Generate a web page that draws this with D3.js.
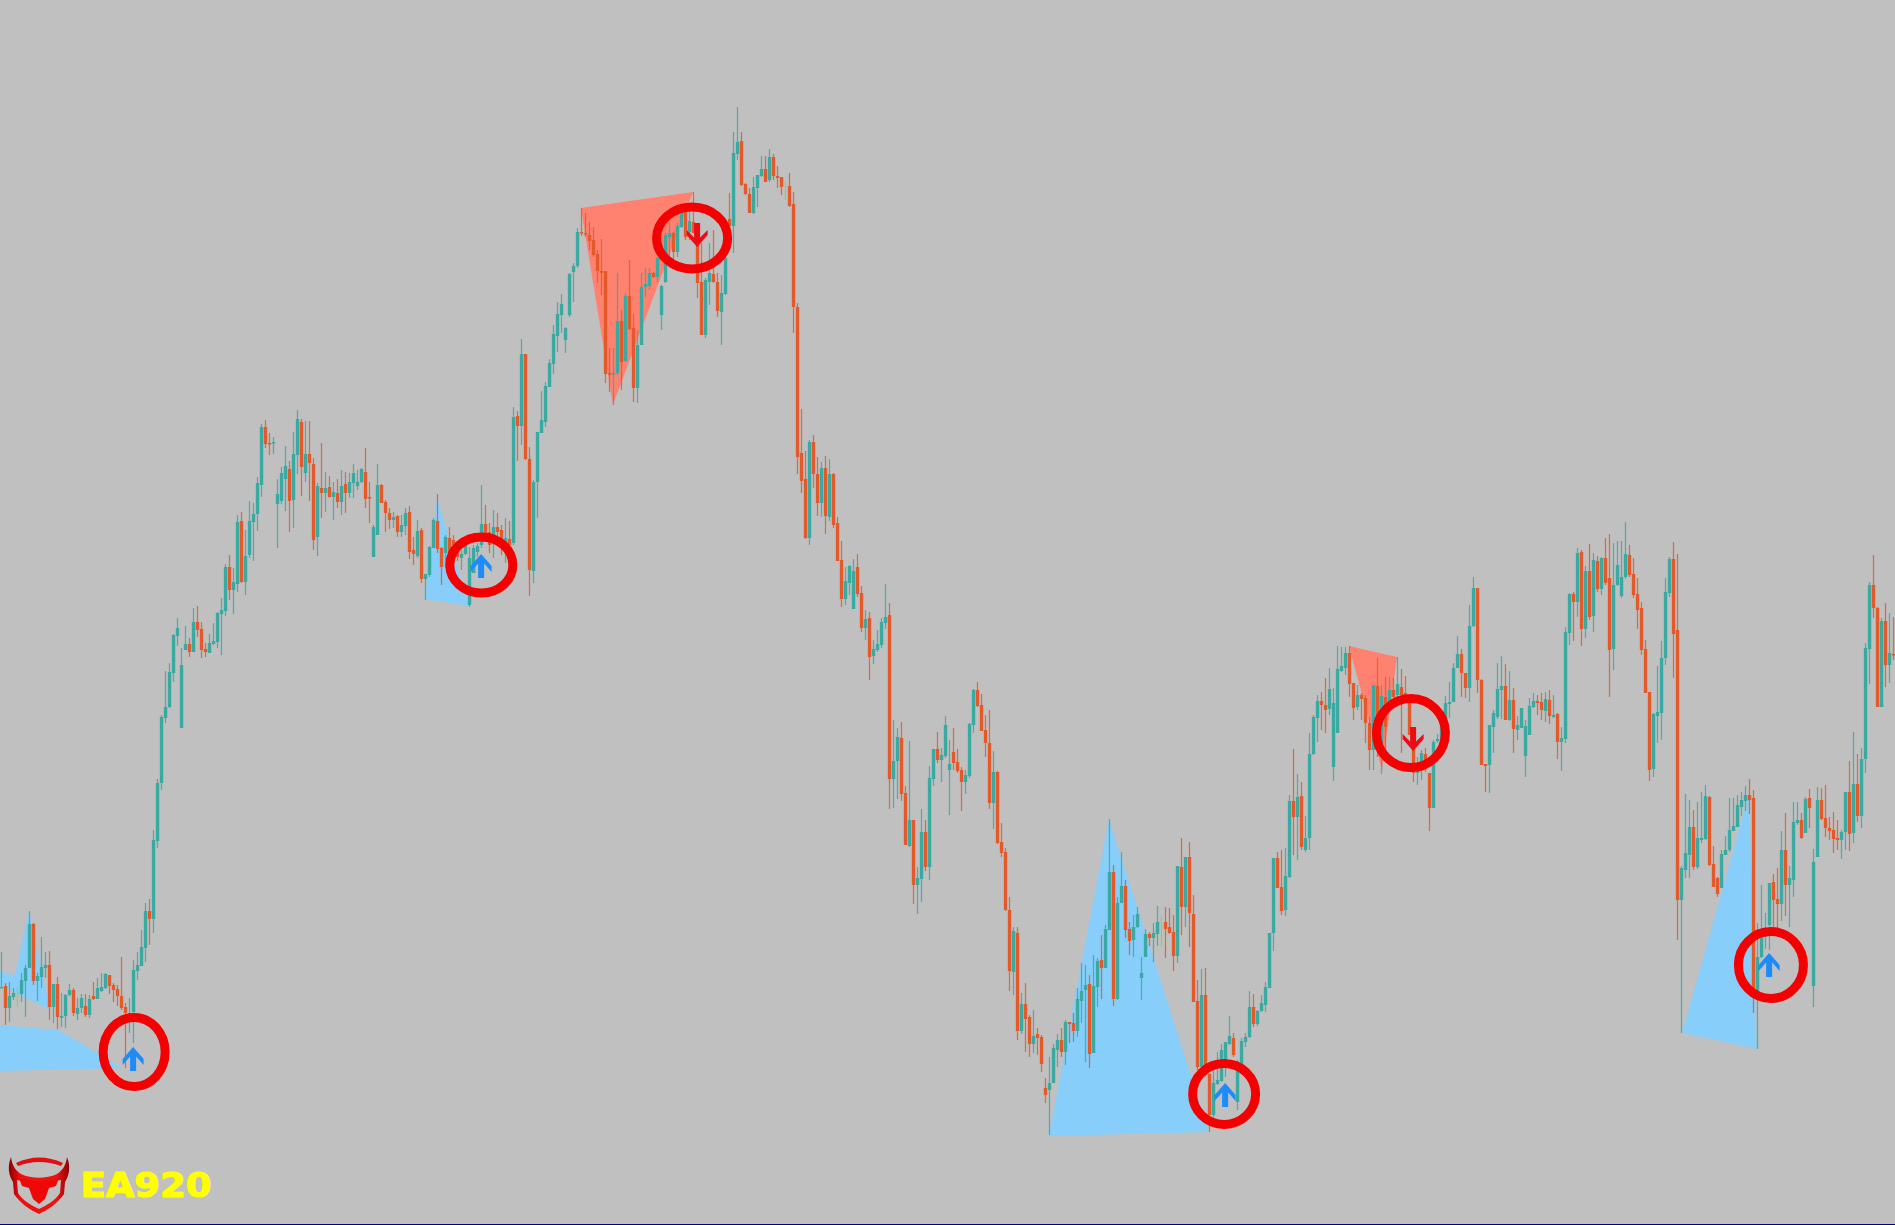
<!DOCTYPE html>
<html><head><meta charset="utf-8">
<style>html,body{margin:0;padding:0;background:#c0c0c0;overflow:hidden}svg{display:block}</style>
<script src="https://cdn.jsdelivr.net/npm/d3@7/dist/d3.min.js"></script></head><body>
<div id="chart"></div>
<script>
// Each bar is [open, high, low, close]
const legBase=[[237,273,237,238],[239,242,200,217],[217,243,203,229],[228,237,225,232],[232,238,218,232],[231,252,223,245],[244,260,208,257],[257,314,257,301],[301,302,240,244],[244,252,224,249],[248,288,237,258],[257,273,247,260],[260,274,205,218],[218,241,202,241],[241,248,196,208],[207,232,198,209],[209,231,197,230],[230,241,229,235],[235,237,209,212],[211,227,205,217],[217,231,212,227],[219,231,208,210],[210,230,207,226],[229,243,225,226],[226,247,226,237],[234,252,233,238],[237,252,236,251],[250,250,231,239],[240,242,223,235],[236,240,219,229],[229,268,215,217],[218,222,157,212],[204,227,192,212],[213,265,182,255],[254,273,245,260],[259,295,259,278],[277,322,263,314],[314,326,280,306]];
const legRally=[[306,395,292,385],[384,446,377,442],[442,510,435,508],[507,554,502,518],[518,562,517,553],[552,591,543,590],[589,607,579,597],[497,577,497,560],[575,599,575,581],[581,587,568,573],[573,617,573,603],[603,619,588,595],[596,603,567,575],[576,582,568,573],[572,591,572,582],[581,602,580,584],[583,613,577,612],[611,627,570,615],[614,661,609,658],[658,670,625,635],[635,657,611,643],[641,710,633,703],[704,713,642,643],[643,695,630,669],[670,724,667,704],[703,722,664,711],[711,748,694,742],[740,801,728,798],[798,805,777,781],[782,792,770,781],[782,788,771,783],[721,746,677,731],[724,758,721,752],[746,779,714,759],[756,764,693,724],[725,793,697,771],[770,815,751,806],[803,806,729,758],[752,804,743,771],[771,804,724,762],[761,767,675,685],[688,742,669,739],[737,782,707,732],[732,753,713,737],[738,749,727,728],[728,743,705,733],[732,746,717,723]];
const legDrift=[[723,755,710,739],[741,753,712,732],[732,752,727,743],[742,761,727,752],[739,755,735,743],[743,757,742,756],[753,777,717,726],[728,743,702,727],[668,700,668,698],[690,761,690,740],[740,741,722,722],[723,725,693,712],[712,717,696,705],[705,713,697,708],[709,710,688,693],[693,710,688,700],[699,717,690,712],[713,719,666,673],[675,688,660,671],[669,705,667,694],[695,697,642,646],[646,651,625,651],[650,679,648,678],[677,707,677,705],[704,731,672,676],[677,678,640,658],[672,690,657,688],[687,698,667,672],[685,690,675,680],[677,678,664,668],[667,675,655,671],[671,683,670,682],[620,678,618,667],[652,680,652,677],[673,682,668,679],[680,740,677,701],[701,720,685,692],[693,702,672,680],[682,715,667,698],[698,712,685,693],[695,700,670,683],[683,707,662,687],[686,704,675,680]];
const legClimb=[[682,818,680,808],[809,814,764,799],[799,886,780,871],[871,871,765,766],[766,778,629,655],[654,745,642,743],[743,793,707,793],[792,834,792,805],[803,843,798,839],[838,866,838,862],[861,900,851,891],[889,923,873,911],[910,931,892,921],[885,898,872,897],[910,952,908,951],[953,962,923,959],[959,997,957,993]];
const legTopOne=[[993,1017,989,992],[992,1012,988,991],[990,1003,975,984],[985,998,968,970],[971,975,942,954],[954,986,930,952],[954,954,842,851],[852,877,833,851],[851,877,820,852],[852,952,850,904],[904,915,835,863],[864,932,863,929],[929,965,895,896],[897,911,823,837],[837,895,822,880],[880,952,880,938],[938,957,928,941],[939,957,935,952],[952,953,947,948],[948,968,943,967],[910,940,895,939],[943,992,942,990],[988,1002,965,992],[992,993,965,973],[973,1002,968,999],[998,1022,997,1015],[1015,1022,985,988],[993,1020,985,1004],[1003,1033,992,992],[1000,1000,927,942],[943,982,890,890],[890,947,887,945],[943,982,920,952],[951,995,942,943],[943,952,908,914],[913,950,880,932],[931,972,930,967],[1006,1032,999,999]];
const legPeak=[[999,1093,972,1072],[1071,1118,1065,1083],[1084,1093,1039,1040],[1041,1042,1030,1031],[1031,1037,1012,1012],[1012,1048,1011,1038],[1037,1050,1018,1050],[1049,1069,1048,1056],[1056,1069,1043,1043],[1045,1076,1043,1068],[1068,1071,1045,1049],[1049,1059,1037,1047],[1048,1048,1030,1038],[1038,1043,1025,1038],[1039,1052,1018,1019]];
const legFall=[[1021,1033,892,918],[918,922,751,768],[772,816,732,744],[746,774,686,687],[687,785,680,783],[783,790,737,751],[751,768,709,722],[722,763,708,757],[757,769,691,709],[708,766,704,751],[751,752,697,700],[702,708,664,664],[665,684,618,626],[626,658,620,644],[642,660,630,659],[616,666,616,654],[658,671,628,631],[632,639,593,597],[597,615,585,606],[607,613,545,568],[569,585,561,576],[575,595,573,581],[580,607,577,603],[602,641,596,608],[610,622,416,446],[446,505,417,464],[464,497,426,488],[487,503,424,431],[432,439,380,380],[379,484,378,405],[405,405,321,340],[340,358,311,347],[346,416,323,393],[393,405,354,358],[358,459,345,447],[446,476,439,476],[476,493,462,465],[465,477,443,470],[469,509,467,500],[455,485,410,461],[473,497,455,462],[463,476,452,454],[455,458,414,443],[443,455,431,450],[449,502,447,501],[500,536,492,535],[535,543,518,519],[520,531,494,494],[495,510,468,482],[482,515,416,422],[422,474,396,453],[453,454,381,382],[383,402,368,372],[373,377,314,315],[315,328,234,254],[253,298,230,294],[292,298,185,194],[194,232,191,221],[221,242,173,206],[208,210,168,181],[181,215,172,189],[191,197,170,187],[188,190,153,161],[137,147,122,130]];
const legTrough=[[135,168,90,142],[142,181,142,177],[175,191,158,185],[185,197,168,173],[173,205,160,203],[203,203,182,201],[202,212,183,194],[194,237,188,226],[224,262,202,234],[235,260,163,240],[241,250,157,171],[172,270,172,239],[238,267,218,264],[265,290,226,257],[257,300,257,296],[295,406,295,353],[353,360,219,226],[226,328,225,322],[322,373,322,339],[339,345,287,295],[296,303,270,284],[285,310,268,298],[298,318,297,311],[247,268,225,252],[268,296,268,291],[291,293,279,287],[287,302,263,292],[291,319,279,303],[302,309,278,302],[303,318,267,296],[298,317,291,292],[293,310,254,269],[269,359,262,359],[358,387,290,318],[318,368,298,368],[368,383,278,312],[311,330,223,223],[224,245,155,158],[158,256,158,230],[230,257,148,150],[151,152,93,110]];
const legRecovery=[[110,158,106,142],[141,173,140,145],[144,181,143,175],[162,183,148,183],[181,209,180,189],[187,192,168,170],[123,165,115,157],[156,187,155,184],[183,192,178,188],[188,234,187,218],[218,231,198,201],[201,215,199,214],[214,230,213,222],[220,243,213,238],[237,292,237,292],[292,367,274,367],[367,373,337,337],[338,375,310,314],[315,377,309,349],[348,430,347,424],[424,476,370,408],[408,451,365,428],[429,443,375,378],[375,409,373,387],[387,492,375,471],[471,510,470,508],[507,530,483,524],[524,533,495,520],[520,547,492,515],[516,557,510,536],[458,537,444,522],[492,579,492,556],[554,578,553,559],[557,578,550,572],[572,579,528,541]];
const legPullback=[[542,542,505,517],[518,540,515,530],[530,532,505,526],[527,530,482,502],[502,508,455,475],[475,540,455,540],[539,567,468,477],[468,540,451,529],[528,548,468,498],[517,548,513,535],[535,547,525,528],[530,568,528,541],[538,556,472,530],[532,549,522,523],[525,530,490,490],[490,495,443,452],[452,468,440,462],[462,475,445,472],[471,477,453,462],[452,452,394,417],[417,485,417,483],[484,491,482,486],[485,500,483,499]];
const legSecondHigh=[[507,529,507,522],[521,543,507,523],[523,562,523,557],[557,589,557,571],[571,576,528,552],[552,552,527,537],[537,620,523,599],[599,648,598,637],[637,637,532,545],[545,546,460,460],[461,461,433,459],[460,500,432,500],[498,515,472,512],[508,562,506,536],[535,569,506,539],[539,561,505,505],[505,554,504,525],[525,537,472,496],[495,509,485,500],[497,517,497,517],[469,505,448,499],[490,527,490,519],[518,532,517,524],[524,530,510,522],[523,532,505,515],[514,533,503,526],[525,535,501,509],[508,530,507,510],[511,512,466,483],[483,498,454,487]];
const legPlateau=[[486,598,482,593],[592,632,580,631],[631,633,584,623],[623,677,608,672],[673,675,579,596],[596,659,587,654],[654,681,605,608],[609,672,593,665],[664,669,633,636],[636,668,630,667],[667,687,640,642],[647,691,528,575],[576,682,555,640],[640,684,639,660],[629,684,627,648],[648,703,646,671],[670,680,648,650],[651,667,627,630],[631,647,596,615],[617,623,570,575],[576,585,532,532],[533,533,444,455],[456,512,448,511],[509,559,482,513],[512,584,485,567],[567,647,560,633],[632,668,628,666],[666,683,547,591]];
const legLastDrop=[[595,671,285,325],[325,359,192,357],[355,431,347,372],[370,425,347,398],[398,415,355,358],[358,423,356,387],[385,433,382,387],[386,440,385,429],[428,429,359,360],[361,379,338,338],[347,348,328,331],[337,375,337,371],[370,389,370,375],[375,427,373,395],[394,427,394,399],[398,430,398,420],[418,433,409,425],[424,439,414,430],[430,446,411,425],[427,435,212,233],[232,302,176,268],[268,340,267,292],[288,312,276,292]];
const legFinal=[[300,342,275,342],[343,351,298,325],[326,357,288,321],[321,394,304,375],[375,412,309,340],[340,359,298,347],[345,423,328,403],[402,423,400,405],[405,412,386,387],[392,428,392,426],[427,436,397,417],[239,376,218,363],[368,438,368,425],[425,437,405,406],[407,440,388,397],[397,408,385,394],[395,413,372,386],[387,405,375,385],[385,395,366,393],[393,433,375,433],[433,464,374,391],[392,493,382,441],[441,471,403,409],[409,477,397,466],[466,582,452,577],[576,643,541,640],[640,670,607,617],[617,618,518,518],[518,607,518,604],[604,622,538,560],[560,612,542,572],[571,608,565,570]];
const candles=[].concat(legBase,legRally,legDrift,legClimb,legTopOne,legPeak,legFall,legTrough,legRecovery,legPullback,legSecondHigh,legPlateau,legLastDrop,legFinal);

// Pattern polygons: [bar, price] vertices
const bullishPatterns=[
 [[6.9,314],[12.2,215],[-0.33,240],[-0.33,253],[3.4,250]],
 [[-0.33,200],[14.2,195],[30.4,157],[-0.33,154]],
 [[108.9,728],[105.9,626],[116.9,619]],
 [[276.9,406],[261.9,89],[301.9,93]],
 [[436.9,430],[420.2,192],[438.9,176]]];
const bearishPatterns=[
 [[144.9,1017],[172.9,1033],[152.9,820]],
 [[336.9,579],[348.9,568],[345.2,455]]];
// Signals: bar, price at arrow tip
const upSignals=[[33,178],[120,671],[306,142],[442,272]];
const downSignals=[[174,978],[353,474]];
// Highlight rings: bar, price
const ringBars=[33.2,120,172.7,305.7,352.4,442.4];
const ringPrices=[173,660,987,131,492,260];
const ringRx=[31,31.5,35.5,31.5,34.5,32.5];
const ringRy=[34.5,28,31,30.5,34.5,33.5];
const brandName="EA920";

const W=1895,H=1225;
const x=d3.scaleLinear().domain([0,473]).range([1.33,1893.33]);
const y=d3.scaleLinear().domain([0,1225]).range([1225,0]);
const svg=d3.select("#chart").append("svg").attr("width",W).attr("height",H);
svg.append("rect").attr("width",W).attr("height",H).attr("fill","#c0c0c0");
const line=d3.line().x(d=>x(d[0])).y(d=>y(d[1]));
svg.append("g").selectAll("path").data(bullishPatterns).join("path")
  .attr("d",d=>line(d)+"Z").attr("fill","#87cefa");
svg.append("g").selectAll("path").data(bearishPatterns).join("path")
  .attr("d",d=>line(d)+"Z").attr("fill","#ff8170");
const colour=d=>d[0]===d[3]?"#66e05a":d[3]>d[0]?"#3aa9a1":"#e4592a";
const bars=svg.append("g").selectAll("g").data(candles).join("g");
bars.append("rect").attr("x",(d,i)=>x(i)-.45).attr("width",1.25)
  .attr("y",d=>y(d[1])).attr("height",d=>Math.max(1,y(d[2])-y(d[1]))).attr("fill",colour).attr("opacity",.85);
bars.filter(d=>d[0]!==d[3]).append("rect").attr("x",d=>x(candles.indexOf(d))-1.5).attr("width",3.4)
  .attr("y",d=>y(Math.max(d[0],d[3]))).attr("height",d=>Math.max(1.5,Math.abs(y(d[0])-y(d[3])))).attr("fill",colour);
const arrowUp="M0,0L10.5,12L10.5,18L3,9.5L3,24L-3,24L-3,9.5L-10.5,18L-10.5,12Z";
const arrowDown="M0,0L10.5,-12L10.5,-17L3,-9.5L3,-24L-3,-24L-3,-9.5L-10.5,-17L-10.5,-12Z";
svg.append("g").selectAll("path").data(upSignals).join("path")
  .attr("transform",d=>`translate(${x(d[0])-.2},${y(d[1])})`).attr("d",arrowUp).attr("fill","#1e8cf8");
svg.append("g").selectAll("path").data(downSignals).join("path")
  .attr("transform",d=>`translate(${x(d[0])-.2},${y(d[1])})`).attr("d",arrowDown).attr("fill","#f00a14");
svg.append("g").selectAll("ellipse").data(ringBars).join("ellipse")
  .attr("cx",d=>x(d)).attr("cy",(d,i)=>y(ringPrices[i])).attr("rx",(d,i)=>ringRx[i]).attr("ry",(d,i)=>ringRy[i])
  .attr("fill","none").attr("stroke","#f40000").attr("stroke-width",9);
// Logo
const defs=svg.append("defs");
const g=defs.append("linearGradient").attr("id","shield").attr("x1",0).attr("x2",1);
[[0,"#8c0000"],[.2,"#f01010"],[.8,"#f01010"],[1,"#8c0000"]].forEach(s=>g.append("stop").attr("offset",s[0]).attr("stop-color",s[1]));
const logo=svg.append("g");
logo.append("path").attr("d","M11,1157C7,1167 9,1176 13,1182L14,1194C20,1203 30,1210 39,1214C48,1210 58,1203 64,1194L65,1182C69,1176 71,1167 67,1157C66,1165 63,1170 57,1174C46,1179 32,1179 21,1174C15,1170 12,1165 11,1157Z").attr("fill","url(#shield)");
logo.append("path").attr("d","M17,1180C30,1183 48,1183 61,1180L60,1193C55,1201 47,1205 39,1209C31,1205 23,1201 18,1193Z").attr("fill","#c0c0c0");
logo.append("path").attr("d","M19,1178C30,1182 48,1182 59,1178L56,1186L49,1188L45,1199L39,1204L33,1199L29,1188L22,1186Z").attr("fill","#ee0808");
logo.append("path").attr("d","M16,1163Q39,1152 63,1163L61,1166Q39,1158 18,1166Z").attr("fill","#e01010");
logo.append("text").text(brandName).attr("x",80.5).attr("y",1196.5)
  .attr("textLength",131).attr("lengthAdjust","spacingAndGlyphs")
  .attr("font-family","DejaVu Sans").attr("font-weight","bold").attr("font-size",34)
  .attr("fill","#ffff00").attr("stroke","#ffff00").attr("stroke-width",1.2);
svg.append("rect").attr("y",1224).attr("width",W).attr("height",1).attr("fill","#000080");
</script></body></html>
